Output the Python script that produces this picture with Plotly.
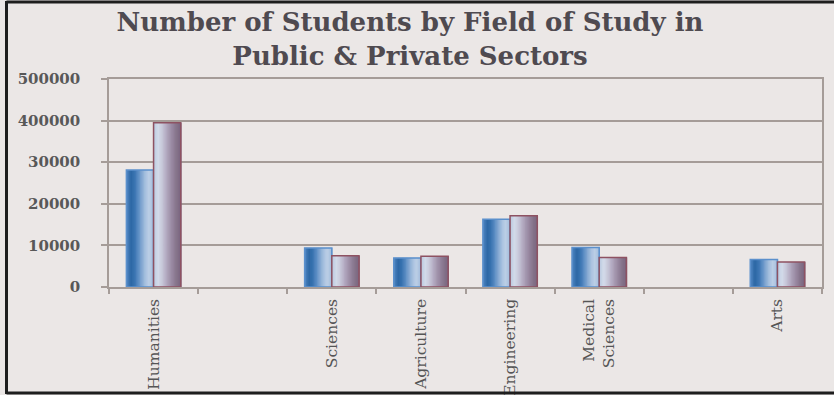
import plotly.graph_objects as go

# ---- data ----
categories = ["Humanities", " ", "Sciences", "Agriculture", "Engineering",
              "Medical<br>Sciences", "  ", "Arts"]
public_sector = [281000, None, 94000, 70000, 163000, 95000, None, 66000]
private_sector = [395000, None, 75000, 74000, 171000, 71000, None, 60000]
tick_values = [0, 100000, 200000, 300000, 400000, 500000]
tick_labels = ["0", "10000", "20000", "30000", "400000", "500000"]

# ---- style ----
BG = "#ebe7e6"
GRID = "#a59c98"
blue_keys = ["#4d84c0", "#2d67a5", "#3873b0", "#5a8cc3", "#84a8d2",
             "#a8c1df", "#bccfe6", "#a4bddc"]
purple_keys = ["#bccae0", "#d3dcea", "#c9cadb", "#b8b1c7", "#a699b1",
               "#95859e", "#86748b", "#7b6781"]
blue_edge = "#5b90cc"
purple_edge = "#8e5262"


def hex2rgb(h):
    h = h.lstrip("#")
    return [int(h[i:i + 2], 16) for i in (0, 2, 4)]


def smooth(keys, n):
    rgb = [hex2rgb(k) for k in keys]
    out = []
    for j in range(n):
        t = j / (n - 1) * (len(rgb) - 1)
        i = min(int(t), len(rgb) - 2)
        f = t - i
        c = [round(rgb[i][k] * (1 - f) + rgb[i + 1][k] * f) for k in range(3)]
        out.append("rgb(%d,%d,%d)" % tuple(c))
    return out


bar_w = 0.305
fig = go.Figure()


def add_bar(values, keys, edge, start):
    strips = smooth(keys, 20)
    n = len(strips)
    sw = bar_w / n
    for i, c in enumerate(strips):
        fig.add_trace(go.Bar(
            x=categories, y=values, width=sw * 1.6, offset=start + i * sw,
            marker=dict(color=c, line=dict(width=0)),
            showlegend=False, hoverinfo="skip"))
    fig.add_trace(go.Bar(
        x=categories, y=values, width=bar_w, offset=start,
        marker=dict(color="rgba(0,0,0,0)", line=dict(color=edge, width=1.5)),
        showlegend=False))


add_bar(public_sector, blue_keys, blue_edge, -bar_w)
add_bar(private_sector, purple_keys, purple_edge, 0)

W, H = 834, 395
L, R, T, B = 109, 12, 79, 108
pw, ph = W - L - R, H - T - B


def px_x(p):
    return (p - L) / pw


def px_y(p):
    return (H - B - p) / ph


# outer frame (left, top, bottom)
frame = dict(type="line", xref="paper", yref="paper",
             line=dict(color="#1e1e1e", width=3))
shapes = [
    dict(frame, x0=px_x(6.5), x1=px_x(6.5), y0=px_y(1), y1=px_y(394)),
    dict(frame, x0=px_x(6.5), x1=px_x(834), y0=px_y(2), y1=px_y(2)),
    dict(frame, x0=px_x(6.5), x1=px_x(834), y0=px_y(393), y1=px_y(393)),
]

fig.update_layout(
    width=W, height=H,
    margin=dict(l=L, r=R, t=T, b=B, autoexpand=False),
    paper_bgcolor=BG, plot_bgcolor=BG,
    barmode="overlay",
    shapes=shapes,
    title=dict(
        text="Number of Students by Field of Study in<br>Public & Private Sectors",
        x=410 / W, xref="container", xanchor="center",
        y=1 - 31 / H, yref="container", yanchor="top",
        font=dict(family="DejaVu Serif", size=26, color="#4f4a50",
                  weight="bold")),
    xaxis=dict(
        type="category", tickson="boundaries", ticks="outside", ticklen=5,
        tickcolor=GRID, tickwidth=1.5, automargin=False,
        showline=True, linecolor=GRID, linewidth=1.5, mirror=True,
        showgrid=False, tickangle=-90,
        tickfont=dict(family="DejaVu Serif", size=15.5, color="#555555"),
        ticklabelstandoff=4),
    yaxis=dict(
        range=[0, 500000], tickvals=tick_values, ticktext=tick_labels,
        ticks="outside", ticklen=6, tickcolor=GRID, tickwidth=1.5,
        showline=True, linecolor=GRID, linewidth=1.5, mirror=True,
        showgrid=True, gridcolor=GRID, gridwidth=1.5, automargin=False,
        tickfont=dict(family="DejaVu Serif", size=15, color="#585858",
                      weight="bold"),
        ticklabelstandoff=18, zeroline=False),
)

fig.write_html("out.html")
